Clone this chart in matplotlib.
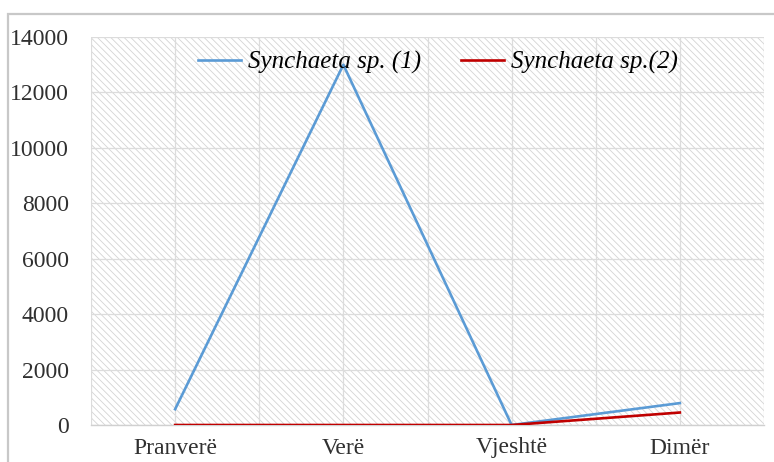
import matplotlib.pyplot as plt
import matplotlib.patches as mpatches
import numpy as np

# Seasonal abundance of two Synchaeta taxa
seasons = ["Pranverë", "Verë", "Vjeshtë", "Dimër"]
synchaeta_1 = [570, 13000, 0, 790]
synchaeta_2 = [0, 0, 0, 450]
y_ticks = [0, 2000, 4000, 6000, 8000, 10000, 12000, 14000]

plt.rcParams['font.family'] = ['Liberation Serif', 'DejaVu Serif']
plt.rcParams['hatch.linewidth'] = 0.6

W, H = 774, 462
fig = plt.figure(figsize=(W / 100, H / 100), dpi=100)
left, right, top, bottom = 91, 764, 37, 425
ax = fig.add_axes([left / W, (H - bottom) / H, (right - left) / W, (bottom - top) / H])

# outer chart border (only the left and top edges fall inside the image)
frame = mpatches.Rectangle((8 / W, -0.2), 1.2, (H - 14) / H + 0.2, transform=fig.transFigure,
                           fill=False, edgecolor='#c8c8c8', linewidth=1.6, clip_on=False)
fig.patches.append(frame)

# hatched plot area background
bg = mpatches.Rectangle((0, 0), 1, 1, transform=ax.transAxes, facecolor='white',
                        edgecolor='#d4d4d4', hatch='\\\\\\\\\\', linewidth=0, zorder=0)
ax.add_patch(bg)

x = np.arange(len(seasons))
ax.plot(x, synchaeta_1, color='#5b9bd5', linewidth=1.9, label='Synchaeta sp. (1)', zorder=3)
ax.plot(x, synchaeta_2, color='#c00000', linewidth=1.9, label='Synchaeta sp.(2)', zorder=3)

ax.set_xlim(-0.5, 3.5)
ax.set_ylim(0, 14000)
ax.set_yticks(y_ticks)
ax.set_xticks(x)
ax.set_xticklabels(seasons)
ax.set_xticks(np.arange(-0.5, 3.6, 0.5), minor=True)
ax.tick_params(axis='both', which='both', length=0)
ax.tick_params(axis='y', pad=16, labelsize=17, labelcolor='#303030')
ax.tick_params(axis='x', pad=9, labelsize=17, labelcolor='#303030')

ax.grid(axis='y', color='#dcdcdc', linewidth=0.9, zorder=1)
ax.grid(axis='x', which='minor', color='#dcdcdc', linewidth=0.9, zorder=1)
ax.grid(axis='x', which='major', color='#dcdcdc', linewidth=0.9, zorder=1)
ax.set_axisbelow(True)
for side in ['top', 'right', 'left']:
    ax.spines[side].set_visible(False)
ax.spines['bottom'].set_color('#d0d0d0')
ax.spines['bottom'].set_linewidth(1.0)

ax.legend(loc='upper center', bbox_to_anchor=(0.515, 1.0), ncol=2, frameon=False,
          prop={'style': 'italic', 'size': 18}, handlelength=1.75, columnspacing=1.6,
          handletextpad=0.25, borderaxespad=0.15)

fig.savefig('out.png', dpi=100)
